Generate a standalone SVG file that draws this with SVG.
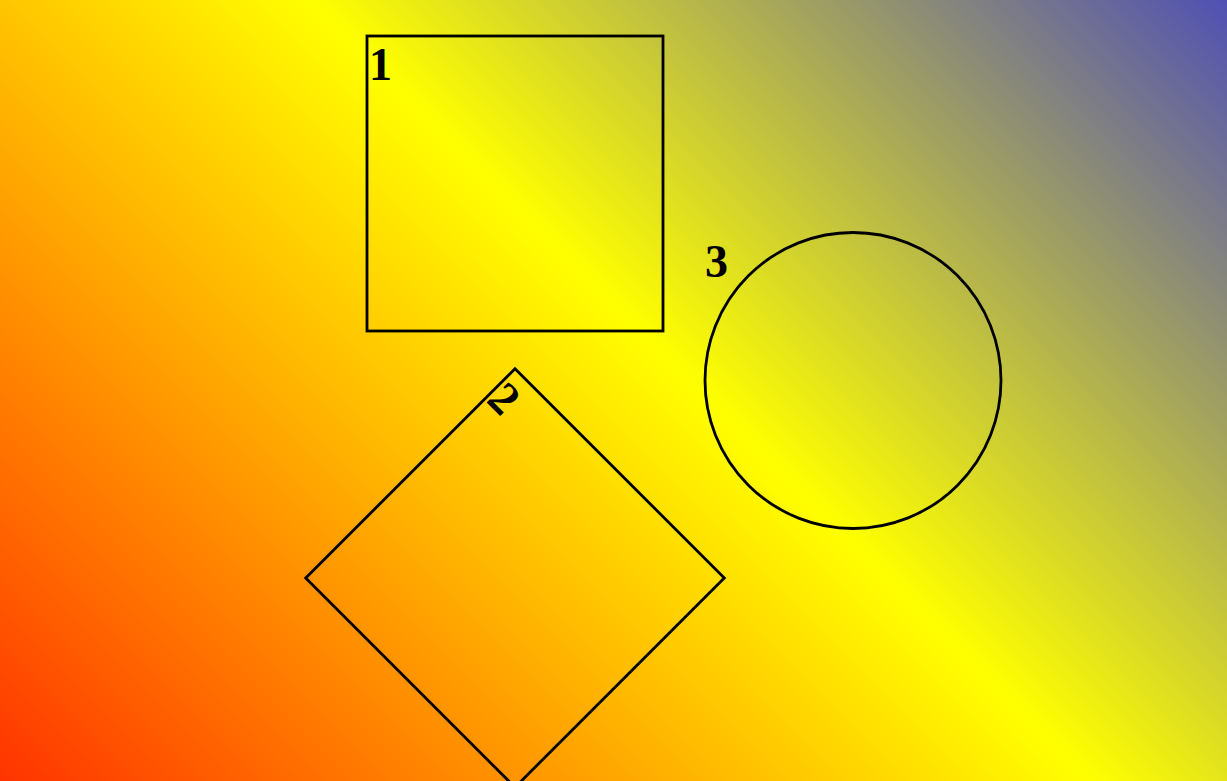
<svg xmlns="http://www.w3.org/2000/svg" width="1227" height="781" viewBox="0 0 1227 781">
  <defs>
    <linearGradient id="bg" gradientUnits="userSpaceOnUse" x1="0" y1="781" x2="1004" y2="-223">
      <stop offset="0" stop-color="#ff3300"/>
      <stop offset="0.543" stop-color="#ffff00"/>
      <stop offset="1" stop-color="#5050b4"/>
    </linearGradient>
    <style>
      .shape { fill: none; stroke: #000; stroke-width: 2.8; }
      .lbl { font-family: "Liberation Serif", serif; font-weight: bold; font-size: 46px; fill: #000; }
    </style>
  </defs>
  <rect x="0" y="0" width="1227" height="781" fill="url(#bg)"/>
  <g id="node1">
    <rect class="shape" x="367" y="36" width="296" height="295"/>
    <text class="lbl" x="369" y="80">1</text>
  </g>
  <g id="node2" transform="rotate(45 515 578)">
    <rect class="shape" x="367" y="430" width="296" height="296"/>
    <text class="lbl" x="369" y="474">2</text>
  </g>
  <g id="node3">
    <circle class="shape" cx="853" cy="380.5" r="148"/>
    <text class="lbl" x="705" y="277">3</text>
  </g>
  <g id="connectors"></g>
</svg>
